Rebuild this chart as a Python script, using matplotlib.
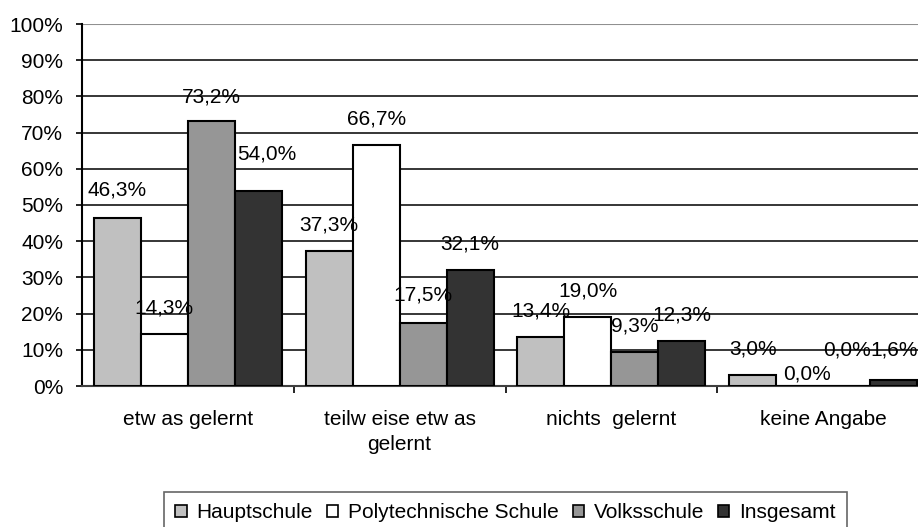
import numpy as np
import matplotlib
matplotlib.use("Agg")
import matplotlib.pyplot as plt
from matplotlib.patches import Patch

plt.rcParams['font.family'] = ['Liberation Sans', 'DejaVu Sans']

categories = ["etw as gelernt", "teilw eise etw as\ngelernt", "nichts  gelernt", "keine Angabe"]
series = ["Hauptschule", "Polytechnische Schule", "Volksschule", "Insgesamt"]
hauptschule = [46.3, 37.3, 13.4, 3.0]
polytechnische = [14.3, 66.7, 19.0, 0.0]
volksschule = [73.2, 17.5, 9.3, 0.0]
insgesamt = [54.0, 32.1, 12.3, 1.6]
values = [hauptschule, polytechnische, volksschule, insgesamt]
colors = ["#c0c0c0", "#ffffff", "#969696", "#333333"]

# label nudges in pixels (dx, dy) relative to the default spot above the bar
nudges = {(0, 0): (0, -2), (2, 0): (0, 2), (3, 0): (8, -11), (2, 1): (0, -2),
          (1, 3): (7, 14), (2, 3): (0, -10), (3, 3): (0, -4)}

W, H = 918, 527
fig = plt.figure(figsize=(W / 100, H / 100), dpi=100)
ax = fig.add_axes([82 / W, 141 / H, 847 / W, 362 / H])

x = np.arange(len(categories))
bw = 0.222
fs = 15
px = 72 / 100  # pixel -> point

for i, (name, vals, c) in enumerate(zip(series, values, colors)):
    pos = x + (i - 1.5) * bw
    ax.bar(pos, vals, bw, color=c, edgecolor="black", linewidth=1.5, label=name, zorder=3)
    for j, v in enumerate(vals):
        dx, dy = nudges.get((i, j), (0, 0))
        ax.annotate(f"{v:.1f}%".replace(".", ","), (pos[j], v),
                    xytext=(dx * px, (26 - dy) * px), textcoords="offset points",
                    ha="center", va="center", fontsize=fs, zorder=4)

ax.set_xlim(-0.5, 3.5)
ax.set_ylim(0, 100)
ax.set_yticks(np.arange(0, 101, 10))
ax.set_yticklabels([f"{t}%" for t in range(0, 101, 10)], fontsize=fs)
for t in range(10, 100, 10):
    ax.axhline(t, color="black", linewidth=1.1, zorder=1)
ax.axhline(100, color="#909090", linewidth=1.5, zorder=1)

ax.set_xticks(x)
ax.set_xticklabels(categories, fontsize=fs, linespacing=1.45)
ax.set_xticks(np.arange(0.5, 3.5, 1), minor=True)
ax.tick_params(axis="x", which="major", length=0, pad=17)
ax.tick_params(axis="x", which="minor", length=5, width=1.2, direction="out")
ax.tick_params(axis="y", length=4.5, width=1.2, direction="out", pad=9)

for s in ["top", "right"]:
    ax.spines[s].set_visible(False)
ax.spines["left"].set_linewidth(1.5)
ax.spines["bottom"].set_linewidth(1.5)
ax.spines["bottom"].set_color("#404040")

handles = [Patch(facecolor=c, edgecolor="black", linewidth=1.2) for c in colors]
leg = fig.legend(handles, series, loc="upper left", bbox_to_anchor=(164 / W, 1 - 492 / H),
                 ncol=4, fontsize=fs, frameon=True, fancybox=False, edgecolor="#404040",
                 handlelength=0.53, handleheight=0.53, handletextpad=0.48, columnspacing=0.67,
                 borderpad=0.55, borderaxespad=0)
leg.get_frame().set_linewidth(1.2)

fig.savefig("out.png", dpi=100)
